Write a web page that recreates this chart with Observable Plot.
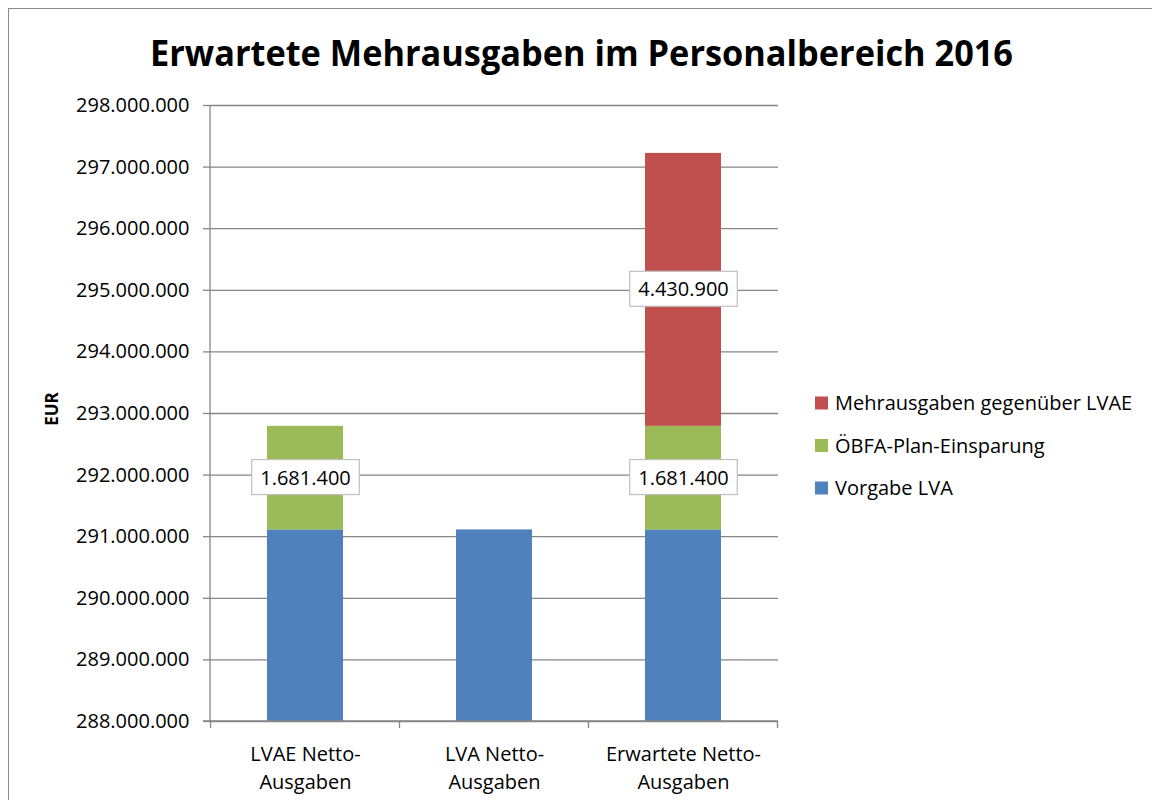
<!DOCTYPE html>
<html>
<head>
<meta charset="utf-8">
<script src="https://cdn.jsdelivr.net/npm/d3@7"></script>
<script src="https://cdn.jsdelivr.net/npm/@observablehq/plot@0.6"></script>
<style>
  html, body { margin: 0; padding: 0; background: #fff; }
  #wrap { position: relative; width: 1152px; height: 800px; overflow: hidden; font-family: "Open Sans", sans-serif; }
  #border { position: absolute; left: 8px; top: 8px; width: 1200px; height: 900px; border: 1.5px solid #8c8c8c; box-sizing: border-box; }
  #chart { position: absolute; left: 0; top: 0; }
  #overlay { position: absolute; left: 0; top: 0; pointer-events: none; }
</style>
</head>
<body>
<div id="wrap">
  <div id="border"></div>
  <div id="chart"></div>
  <svg id="overlay" width="1152" height="800"></svg>
</div>
<script>
// ---- data ----
const title = "Erwartete Mehrausgaben im Personalbereich 2016";
const yLabel = "EUR";
const categories = ["LVAE Netto-Ausgaben", "LVA Netto-Ausgaben", "Erwartete Netto-Ausgaben"];
const categoryLabels = ["LVAE Netto-\nAusgaben", "LVA Netto-\nAusgaben", "Erwartete Netto-\nAusgaben"];
const series = ["Vorgabe LVA", "ÖBFA-Plan-Einsparung", "Mehrausgaben gegenüber LVAE"];
const vorgabeLVA = [291110000, 291110000, 291110000];
const oebfaEinsparung = [1681400, 0, 1681400];
const mehrausgaben = [0, 0, 4430900];
const colors = ["#4F81BD", "#9BBB59", "#C0504D"];
const labeledSeries = ["ÖBFA-Plan-Einsparung", "Mehrausgaben gegenüber LVAE"];
const yTicks = [288000000, 289000000, 290000000, 291000000, 292000000, 293000000,
                294000000, 295000000, 296000000, 297000000, 298000000];
const yDomain = [288000000, 298000000];

// ---- build table ----
const seriesValues = [vorgabeLVA, oebfaEinsparung, mehrausgaben];
const rows = [];
categories.forEach((c, i) => {
  let acc = 0;
  series.forEach((s, j) => {
    const v = seriesValues[j][i];
    rows.push({cat: c, series: s, value: v, y1: acc, y2: acc + v, mid: acc + v / 2});
    acc += v;
  });
});

const de = d3.formatLocale({decimal: ",", thousands: ".", grouping: [3], currency: ["", " €"]});
const fmt = de.format(",d");
const catLabel = new Map(categories.map((c, i) => [c, categoryLabels[i]]));
const labelRows = rows.filter(d => labeledSeries.includes(d.series) && d.value > 0);

const gridColor = "#868686";
const fontSize = 20;

// boxes behind labels, drawn through a render hook of the text mark
function boxedLabels(index, scales, values, dimensions, context, next) {
  const g = next(index, scales, values, dimensions, context);
  requestAnimationFrame(() => {});
  return g;
}

const plot = Plot.plot({
  width: 1152,
  height: 800,
  marginLeft: 210,
  marginRight: 374,
  marginTop: 105,
  marginBottom: 79,
  style: {fontFamily: "Open Sans, sans-serif", fontSize: fontSize + "px", color: "#000", background: "transparent"},
  x: {domain: categories, paddingInner: 0.6, paddingOuter: 0.3, axis: null},
  y: {domain: yDomain, axis: null},
  color: {domain: series, range: colors},
  marks: [
    Plot.ruleY(yTicks, {stroke: gridColor, strokeWidth: 1.3}),
    Plot.axisY({ticks: yTicks, tickFormat: fmt, tickSize: 7, tickPadding: 14, stroke: gridColor, strokeWidth: 1.3, fontSize: fontSize, label: null}),
    Plot.barY(rows.filter(d => d.value > 0), {x: "cat", y1: "y1", y2: "y2", fill: "series", clip: true}),
    Plot.text(categories, {x: d => d, text: d => catLabel.get(d), frameAnchor: "bottom", lineAnchor: "top", dy: 19, lineHeight: 1.42, fontSize: fontSize, fill: "#000"}),
    Plot.text(labelRows, {x: "cat", y: "mid", text: d => fmt(d.value), fontSize: fontSize, fill: "#000"})
  ]
});
document.getElementById("chart").appendChild(plot);

const svg = d3.select(plot);
const xs = plot.scale("x");
const ys = plot.scale("y");
const [ry0, ry1] = ys.range;

// axis lines: left and bottom
const leftX = xs.range[0], rightX = xs.range[1];
const chrome = svg.append("g").attr("stroke", gridColor).attr("stroke-width", 1.3);
chrome.append("line").attr("x1", leftX).attr("x2", leftX).attr("y1", Math.min(ry0, ry1)).attr("y2", Math.max(ry0, ry1));
chrome.append("line").attr("x1", leftX - 7).attr("x2", rightX).attr("y1", Math.max(ry0, ry1)).attr("y2", Math.max(ry0, ry1));
const step = xs.step;
const x0 = xs.apply(categories[0]) - (step - xs.bandwidth) / 2;
for (let k = 0; k <= categories.length; k++) {
  const xx = x0 + k * step;
  chrome.append("line").attr("x1", xx).attr("x2", xx).attr("y1", Math.max(ry0, ry1)).attr("y2", Math.max(ry0, ry1) + 7);
}

// white boxes behind value labels (find label texts by content)
const labelStrings = new Set(labelRows.map(d => fmt(d.value)));
const labelTexts = [];
plot.querySelectorAll("text").forEach(t => {
  if (labelStrings.has(t.textContent.trim()) && t.closest("g") && !t.closest('[aria-label^="y-axis"]')) labelTexts.push(t);
});
labelTexts.forEach(t => {
  const bb = t.getBBox();
  const ctm = t.getAttribute("transform");
  const padX = 8.5, padY = 4;
  const r = document.createElementNS("http://www.w3.org/2000/svg", "rect");
  r.setAttribute("x", bb.x - padX);
  r.setAttribute("y", bb.y - padY);
  r.setAttribute("width", bb.width + 2 * padX);
  r.setAttribute("height", bb.height + 2 * padY);
  r.setAttribute("fill", "#fff");
  r.setAttribute("stroke", "#bfbfbf");
  r.setAttribute("stroke-width", "1.2");
  if (ctm) r.setAttribute("transform", ctm);
  t.parentNode.insertBefore(r, t);
});

// ---- overlay: title, y label, legend ----
const ov = d3.select("#overlay");
ov.append("text").text(title)
  .attr("x", 150).attr("y", 65.5)
  .attr("textLength", 863).attr("lengthAdjust", "spacingAndGlyphs")
  .attr("font-family", "Open Sans, sans-serif").attr("font-weight", 700).attr("font-size", 35).attr("fill", "#000");

ov.append("text").text(yLabel)
  .attr("transform", "translate(58,409) rotate(-90)")
  .attr("text-anchor", "middle")
  .attr("font-family", "Open Sans, sans-serif").attr("font-weight", 700).attr("font-size", 17).attr("fill", "#000");

const legendItems = series.slice().reverse();
const legendColors = colors.slice().reverse();
const legendY = [403, 445.5, 488];
legendItems.forEach((s, i) => {
  ov.append("rect").attr("x", 815).attr("y", legendY[i] - 6.5).attr("width", 13).attr("height", 13).attr("fill", legendColors[i]);
  ov.append("text").text(s).attr("x", 835).attr("y", legendY[i]).attr("dy", "0.36em")
    .attr("font-family", "Open Sans, sans-serif").attr("font-size", 20).attr("fill", "#000");
});
</script>
</body>
</html>
